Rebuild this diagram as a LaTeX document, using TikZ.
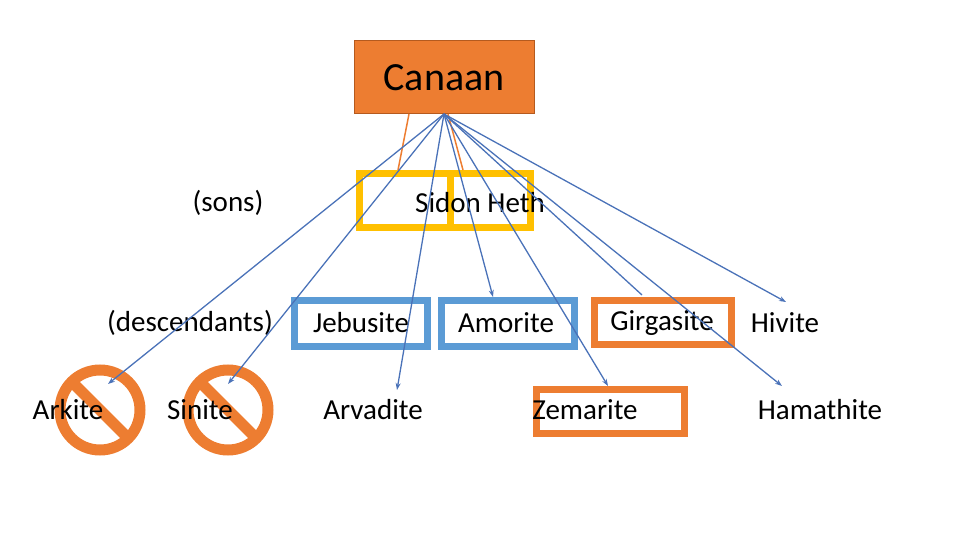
\documentclass[tikz,border=0pt]{standalone}
\usepackage{fontspec}
\setmainfont{Carlito}
\usetikzlibrary{arrows.meta}
\definecolor{corange}{HTML}{ED7D31}
\definecolor{cdorange}{HTML}{B55A1E}
\definecolor{cgold}{HTML}{FFC000}
\definecolor{cblue}{HTML}{5B9BD5}
\definecolor{cline}{HTML}{4A72B8}
\begin{document}
\begin{tikzpicture}[x=1pt,y=-1pt,
  lbl/.style={font=\fontsize{29}{32}\selectfont, inner sep=0pt},
  ybox/.style={draw=cgold, line width=7pt},
  bbox/.style={draw=cblue, line width=7pt, fill=white},
  obox/.style={draw=corange, line width=7pt, fill=white},
  conn/.style={draw=cline, line width=1.3pt, -{Stealth[length=7pt,width=5pt]}},
  noent/.style={draw=corange, line width=11pt}]
\useasboundingbox (0,0) rectangle (960,540);
% Canaan
\node[draw=cdorange, line width=1pt, fill=corange, minimum width=180pt, minimum height=73pt, font=\fontsize{40}{44}\selectfont] (canaan) at (444,77.5) {Canaan};
\coordinate (src) at (444,114);
% sons boxes
\draw[ybox] (359,174) rectangle (450,227);
\draw[ybox] (450,174) rectangle (530,227);
\node[lbl] (sons) at (228,203) {(sons)};
\node[lbl] (sidon) at (480,203) {Sidon Heth};
% descendants row
\node[bbox, minimum width=133pt, minimum height=46pt] (jebbox) at (361,323.5) {};
\node[bbox, minimum width=133pt, minimum height=46pt] (amobox) at (508,323.5) {};
\node[obox, minimum width=137pt, minimum height=44pt] (girbox) at (663,322.5) {};
\node[obox, minimum width=148pt, minimum height=44pt] (zembox) at (610.5,411.5) {};
\node[lbl] (desc) at (190,323) {(descendants)};
\node[lbl] (jeb) at (361,323) {Jebusite};
\node[lbl] (amo) at (506,323) {Amorite};
\node[lbl] (gir) at (662,323) {Girgasite};
\node[lbl] (hiv) at (785,323) {Hivite};
% bottom row
\draw[noent] (100,410) circle (40pt);
\draw[noent] ([shift={(-28,-28)}]100,410) -- ([shift={(28,28)}]100,410);
\draw[noent] (228,410) circle (40pt);
\draw[noent] ([shift={(-28,-28)}]228,410) -- ([shift={(28,28)}]228,410);
\node[lbl] (ark) at (68,410) {Arkite};
\node[lbl] (sin) at (200,410) {Sinite};
\node[lbl] (arv) at (373,410) {Arvadite};
\node[lbl] (zem) at (585,410) {Zemarite};
\node[lbl] (ham) at (820,410) {Hamathite};
% orange lines to sons
\draw[corange, line width=1.5pt] (409,114) -- (398,170);
\draw[corange, line width=1.5pt] (448,114) -- (463,170);
% connectors
\coordinate (tark) at (108,384);
\coordinate (tsin) at (228,384);
\coordinate (tarv) at (397,390);
\coordinate (tamo) at (493,297);
\coordinate (tzem) at (608,386);
\coordinate (tgir) at (642,295);
\coordinate (thiv) at (786,302);
\coordinate (tham) at (782,386);
\foreach \t in {tark,tsin,tarv,tamo,tzem,thiv,tham} \draw[conn] (src) -- (\t);
\draw[cline, line width=1.3pt] (src) -- (tgir);
\end{tikzpicture}
\end{document}
